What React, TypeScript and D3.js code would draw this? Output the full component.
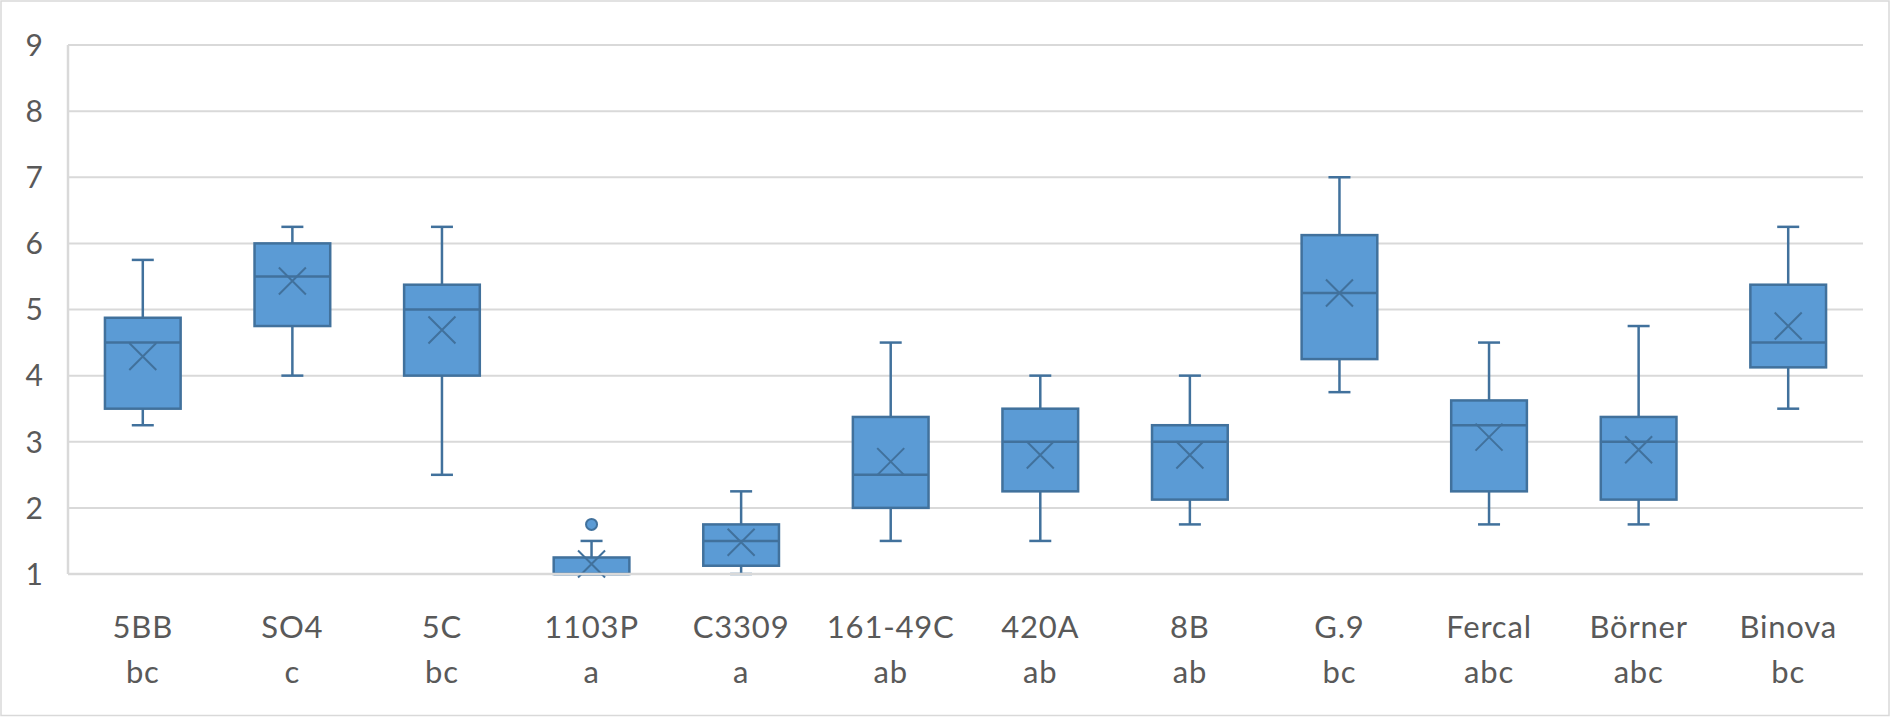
import React from 'react';
import * as d3 from 'd3';

// rootstocks and their significance letters
const categories = ['5BB', 'SO4', '5C', '1103P', 'C3309', '161-49C', '420A', '8B', 'G.9', 'Fercal', 'Börner', 'Binova'];
const groups = ['bc', 'c', 'bc', 'a', 'a', 'ab', 'ab', 'ab', 'bc', 'abc', 'abc', 'bc'];

// five-number summaries
const whiskerLow = [3.25, 4.0, 2.5, 1.0, 1.0, 1.5, 1.5, 1.75, 3.75, 1.75, 1.75, 3.5];
const q1 = [3.5, 4.75, 4.0, 1.0, 1.125, 2.0, 2.25, 2.125, 4.25, 2.25, 2.125, 4.125];
const median = [4.5, 5.5, 5.0, 1.0, 1.5, 2.5, 3.0, 3.0, 5.25, 3.25, 3.0, 4.5];
const q3 = [4.875, 6.0, 5.375, 1.25, 1.75, 3.375, 3.5, 3.25, 6.125, 3.625, 3.375, 5.375];
const whiskerHigh = [5.75, 6.25, 6.25, 1.5, 2.25, 4.5, 4.0, 4.0, 7.0, 4.5, 4.75, 6.25];
const means = [4.29, 5.43, 4.69, 1.15, 1.48, 2.7, 2.8, 2.8, 5.25, 3.07, 2.88, 4.75];
const outliers: number[][] = [[], [], [], [1.75], [], [], [], [], [], [], [], []];

const yTicks = [1, 2, 3, 4, 5, 6, 7, 8, 9];

const W = 1891;
const H = 717;
const FILL = '#5B9BD5';
const STROKE = '#41719C';
const GRID = '#D9D9D9';
const TEXT = '#595959';
const FONT = 'Lato, "Open Sans", sans-serif';

export default function App() {
  const x = d3.scaleBand<string>().domain(categories).range([68, 1863]).padding(0);
  const y = d3.scaleLinear().domain([1, 9]).range([574, 45]);

  const bw = x.bandwidth();
  const boxW = bw * 0.506;
  const capW = 22;
  const xs = 13.5; // half size of mean marker

  return (
    <svg
      width={W}
      height={H}
      style={{ position: 'absolute', left: 0, top: 0, background: '#fff' }}
      fontFamily={FONT}
    >
      <rect x={1} y={1} width={W - 3} height={H - 2.5} fill="#fff" stroke={GRID} strokeWidth={1.5} />

      {/* grid */}
      {yTicks.slice(1).map((t) => (
        <line key={'g' + t} x1={68} x2={1863} y1={y(t)} y2={y(t)} stroke={GRID} strokeWidth={2} />
      ))}
      <line x1={68} x2={68} y1={y(9)} y2={y(1)} stroke={GRID} strokeWidth={2.5} />

      {yTicks.map((t) => (
        <text key={'t' + t} x={43} y={y(t)} dy="0.36em" textAnchor="end" fontSize={30} fill={TEXT}>
          {t}
        </text>
      ))}

      {categories.map((c, i) => {
        const cx = (x(c) as number) + bw / 2;
        return (
          <g key={c}>
            {/* whiskers */}
            <line x1={cx} x2={cx} y1={y(whiskerHigh[i])} y2={y(q3[i])} stroke={STROKE} strokeWidth={2.5} />
            <line x1={cx} x2={cx} y1={y(q1[i])} y2={y(whiskerLow[i])} stroke={STROKE} strokeWidth={2.5} />
            <line x1={cx - capW / 2} x2={cx + capW / 2} y1={y(whiskerHigh[i])} y2={y(whiskerHigh[i])} stroke={STROKE} strokeWidth={2.5} />
            <line x1={cx - capW / 2} x2={cx + capW / 2} y1={y(whiskerLow[i])} y2={y(whiskerLow[i])} stroke={STROKE} strokeWidth={2.5} />
            {/* box */}
            <rect
              x={cx - boxW / 2}
              y={y(q3[i])}
              width={boxW}
              height={y(q1[i]) - y(q3[i])}
              fill={FILL}
              stroke={STROKE}
              strokeWidth={2.5}
            />
            <line x1={cx - boxW / 2} x2={cx + boxW / 2} y1={y(median[i])} y2={y(median[i])} stroke={STROKE} strokeWidth={2.5} />
            {/* mean */}
            <path
              d={`M${cx - xs},${y(means[i]) - xs}L${cx + xs},${y(means[i]) + xs}M${cx - xs},${y(means[i]) + xs}L${cx + xs},${y(means[i]) - xs}`}
              stroke={STROKE}
              strokeWidth={2}
              fill="none"
            />
            {outliers[i].map((o, k) => (
              <circle key={k} cx={cx} cy={y(o)} r={5.5} fill={FILL} stroke={STROKE} strokeWidth={2} />
            ))}
            <text x={cx} y={638} textAnchor="middle" fontSize={31} letterSpacing={0.8} fill={TEXT}>
              {c}
            </text>
            <text x={cx} y={683} textAnchor="middle" fontSize={31} letterSpacing={0.8} fill={TEXT}>
              {groups[i]}
            </text>
          </g>
        );
      })}

      {/* category axis line drawn over the series */}
      <line x1={68} x2={1863} y1={y(1)} y2={y(1)} stroke={GRID} strokeWidth={2.5} />
    </svg>
  );
}
